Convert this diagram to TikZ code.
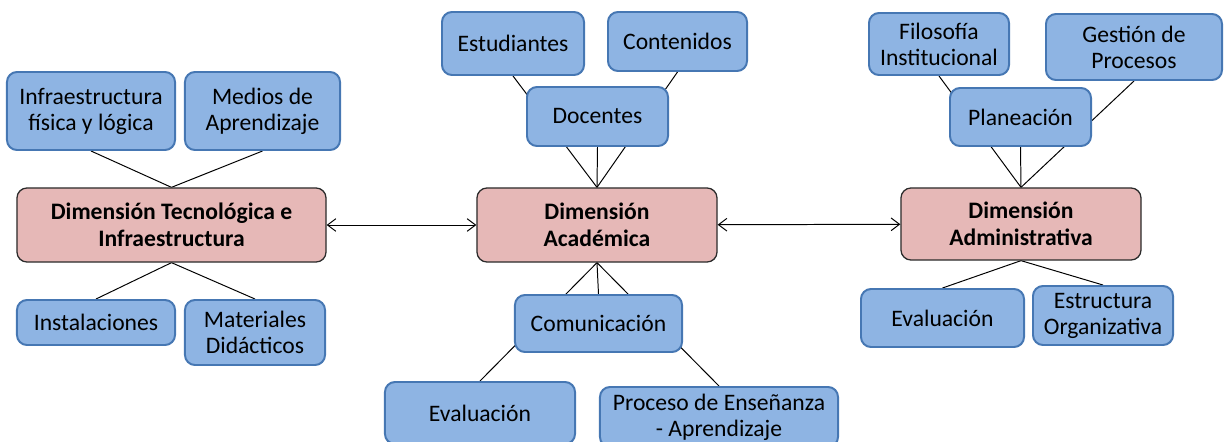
\documentclass[tikz,border=0pt]{standalone}
\usepackage{fontspec}
\setmainfont{Carlito}
\usetikzlibrary{arrows.meta,backgrounds}

\definecolor{subfill}{HTML}{8EB4E3}
\definecolor{subdraw}{HTML}{4677B3}
\definecolor{dimfill}{HTML}{E6B8B7}
\definecolor{dimdraw}{HTML}{2B2B2B}

\tikzset{
  sub/.style={draw=subdraw,fill=subfill,line width=1.4pt,rounded corners=0.25cm,
    align=center,font=\fontsize{16.8}{18.5}\selectfont,inner sep=2pt},
  dim/.style={draw=dimdraw,fill=dimfill,line width=0.9pt,rounded corners=0.25cm,
    align=center,font=\fontsize{16.8}{19.5}\selectfont\bfseries,inner sep=2pt},
  link/.style={draw=black,line width=0.7pt}
}

\begin{document}
\begin{tikzpicture}[x=0.025cm,y=-0.025cm,>={Straight Barb[length=6pt,width=9pt]}]
    \useasboundingbox (0,0) rectangle (1224,441);

    % dimensiones
    \node[dim,minimum width=7.725cm,minimum height=1.85cm] (tec) at (171.5,225) {Dimensión Tecnológica e\\Infraestructura};
    \node[dim,minimum width=6cm,minimum height=1.85cm] (acad) at (597,225) {Dimensión\\Académica};
    \node[dim,minimum width=6cm,minimum height=1.8cm] (adm) at (1021,224) {Dimensión\\Administrativa};

    % tecnologica
    \node[sub,minimum width=4.2cm,minimum height=1.95cm] (infra) at (91,111) {Infraestructura\\física y lógica};
    \node[sub,minimum width=3.875cm,minimum height=1.95cm] (medios) at (262.5,111) {Medios de\\Aprendizaje};
    \node[sub,minimum width=3.95cm,minimum height=1.125cm] (inst) at (96,322.5) {Instalaciones};
    \node[sub,minimum width=3.5cm,minimum height=1.625cm] (mat) at (255,332.5) {Materiales\\Didácticos};

    % academica
    \node[sub,minimum width=3.55cm,minimum height=1.575cm] (est) at (513,43.5) {Estudiantes};
    \node[sub,minimum width=3.475cm,minimum height=1.475cm] (cont) at (677.5,41.5) {Contenidos};
    \node[sub,minimum width=3.525cm,minimum height=1.475cm] (doc) at (597.5,116.5) {Docentes};
    \node[sub,minimum width=4.175cm,minimum height=1.425cm] (com) at (598.5,323.5) {Comunicación};
    \node[sub,minimum width=4.75cm,minimum height=1.55cm] (evala) at (480,413) {Evaluación};
    \node[sub,minimum width=5.95cm,minimum height=1.5cm] (proc) at (719,417) {Proceso de Enseñanza\\- Aprendizaje};

    % administrativa
    \node[sub,minimum width=3.5cm,minimum height=1.55cm] (filo) at (939,44) {Filosofía\\Institucional};
    \node[sub,minimum width=4.4cm,minimum height=1.65cm] (gest) at (1134,47) {Gestión de\\Procesos};
    \node[sub,minimum width=3.525cm,minimum height=1.45cm] (plan) at (1020.5,117) {Planeación};
    \node[sub,minimum width=4.075cm,minimum height=1.45cm] (evalb) at (942.5,318) {Evaluación};
    \node[sub,minimum width=3.5cm,minimum height=1.475cm] (estr) at (1103,315.5) {Estructura\\Organizativa};

    \begin{pgfonlayer}{background}
        \draw[link] (infra.south) -- (tec.north);
        \draw[link] (medios.south) -- (tec.north);
        \draw[link] (inst.north) -- (tec.south);
        \draw[link] (mat.north) -- (tec.south);

        \draw[link] (est.south) -- (acad.north);
        \draw[link] (cont.south) -- (acad.north);
        \draw[link] (doc.south) -- (acad.north);
        \draw[link] (com.north) -- (acad.south);
        \draw[link] (evala.north) -- (acad.south);
        \draw[link] (proc.north) -- (acad.south);

        \draw[link] (filo.south) -- (adm.north);
        \draw[link] (gest.south) -- (adm.north);
        \draw[link] (plan.south) -- (adm.north);
        \draw[link] (evalb.north) -- (adm.south);
        \draw[link] (estr.north) -- (adm.south);
    \end{pgfonlayer}

    \draw[link,<->] (tec) -- (acad);
    \draw[link,<->] (acad) -- (adm);
\end{tikzpicture}
\end{document}
